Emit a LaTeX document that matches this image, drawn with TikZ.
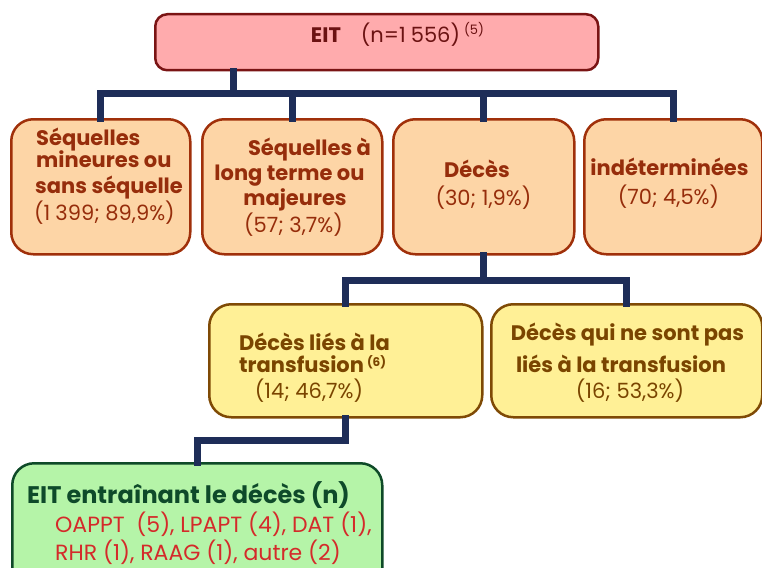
\documentclass[tikz,border=0pt]{standalone}
\usepackage{fontspec}
\setmainfont{Poppins}
\definecolor{navy}{HTML}{1E2D58}
\definecolor{pinkfill}{HTML}{FFABAD}
\definecolor{pinkline}{HTML}{7A1414}
\definecolor{pinktext}{HTML}{6B1212}
\definecolor{peachfill}{HTML}{FDD5A6}
\definecolor{peachline}{HTML}{A0300A}
\definecolor{peachtext}{HTML}{962D0B}
\definecolor{yelfill}{HTML}{FFF096}
\definecolor{yelline}{HTML}{7F4A05}
\definecolor{yeltext}{HTML}{7A4500}
\definecolor{grnfill}{HTML}{B5F4A8}
\definecolor{grnline}{HTML}{0E4A28}
\definecolor{grntext}{HTML}{0E4A2A}
\definecolor{redtext}{HTML}{D42A2A}
\tikzset{
  box/.style={rectangle, rounded corners=22pt, line width=2.5pt, anchor=north west, inner sep=0pt},
  topbox/.style={box, rounded corners=12pt, draw=pinkline, fill=pinkfill},
  peachbox/.style={box, draw=peachline, fill=peachfill},
  yelbox/.style={box, draw=yelline, fill=yelfill},
  grnbox/.style={box, draw=grnline, fill=grnfill},
  conn/.style={draw=navy, line width=7pt, line join=miter, line cap=rect},
  tx/.style={inner sep=0pt, anchor=base, font=\fontsize{21}{25}\selectfont},
  txb/.style={tx, font=\fontsize{21}{25}\selectfont\bfseries},
}
\begin{document}
\begin{tikzpicture}[x=1pt, y=-1pt]
\useasboundingbox (0,0) rectangle (762,567);
\clip (0,0) rectangle (762,567);
% boxes
\node[topbox, minimum width=443pt, minimum height=56pt] (top) at (154,13) {};
\node[peachbox, minimum width=179pt, minimum height=135pt] (b1) at (10,118) {};
\node[peachbox, minimum width=180pt, minimum height=135pt] (b2) at (201,118) {};
\node[peachbox, minimum width=181pt, minimum height=135pt] (b3) at (392,118) {};
\node[peachbox, minimum width=178pt, minimum height=135pt] (b4) at (583,118) {};
\node[yelbox, minimum width=273pt, minimum height=113pt] (bA) at (208,303) {};
\node[yelbox, minimum width=271pt, minimum height=113pt] (bB) at (490,303) {};
\node[grnbox, minimum width=370pt, minimum height=130pt] (bC) at (11,462) {};
% junctions
\coordinate (j0) at (233,94);
\coordinate (j1) at (482,280);
\coordinate (j2) at (0,440);
% connectors
\draw[conn] (top.south -| j0) -- (j0);
\draw[conn] (b1.north) -- (b1.north |- j0) -- (b4.north |- j0) -- (b4.north);
\draw[conn] (b2.north) -- (b2.north |- j0);
\draw[conn] (b3.north) -- (b3.north |- j0);
\draw[conn] (b3.south) -- (b3.south |- j1);
\draw[conn] (bA.north) -- (bA.north |- j1) -- (bB.north |- j1) -- (bB.north);
\draw[conn] (bA.south) -- (bA.south |- j2) -| (bC.north);
% top text
\node[tx, text=pinktext] (t0) at (397.5,43) {\textbf{EIT}\hspace{20pt}(n=1\hspace{5pt}556)\hspace{4pt}\raisebox{8pt}{\fontsize{13}{15}\selectfont(5)}};
% box 1
\node[txb, anchor=base west, text=peachtext] (t1a) at (36,145) {Séquelles};
\node[txb, anchor=base west, text=peachtext] (t1b) at (36,167) {mineures ou};
\node[txb, anchor=base west, text=peachtext] (t1c) at (35,193) {sans séquelle};
\node[tx, anchor=base west, text=peachtext] (t1d) at (34,220) {(1\hspace{5pt}399; 89,9\%)};
% box 2
\node[txb, text=peachtext] (t2a) at (309.5,155) {Séquelles à};
\node[txb, text=peachtext] (t2b) at (289.5,180) {long terme ou};
\node[txb, text=peachtext] (t2c) at (295,205) {majeures};
\node[tx, text=peachtext] (t2d) at (293.5,232) {(57; 3,7\%)};
% box 3
\node[txb, text=peachtext] (t3a) at (477,177) {Décès};
\node[tx, text=peachtext] (t3b) at (483.5,205) {(30; 1,9\%)};
% box 4
\node[txb, text=peachtext] (t4a) at (669.5,175) {indéterminées};
\node[tx, text=peachtext] (t4b) at (668.5,204) {(70; 4,5\%)};
% box A
\node[txb, anchor=base west, text=yeltext] (tAa) at (239,350) {Décès liés à la};
\node[txb, anchor=base west, text=yeltext] (tAb) at (239,372) {transfusion\hspace{3pt}\raisebox{6pt}{\fontsize{12}{14}\selectfont(6)}};
\node[tx, text=yeltext] (tAc) at (309,398) {(14; 46,7\%)};
% box B
\node[txb, text=yeltext] (tBa) at (627.5,340) {Décès qui ne sont pas};
\node[txb, text=yeltext] (tBb) at (621,372) {liés à la transfusion};
\node[tx, text=yeltext] (tBc) at (630,398) {(16; 53,3\%)};
% box C
\node[txb, anchor=base west, text=grntext, font=\fontsize{24}{28}\selectfont\bfseries] (tCa) at (27,503) {EIT entraînant le décès (n)};
\node[tx, anchor=base west, text=redtext, font=\fontsize{22}{26}\selectfont] (tCb) at (55,532) {OAPPT\ \ (5), LPAPT (4), DAT (1),};
\node[tx, anchor=base west, text=redtext, font=\fontsize{22}{26}\selectfont] (tCc) at (55,560) {RHR (1), RAAG (1), autre (2)};
\end{tikzpicture}
\end{document}
